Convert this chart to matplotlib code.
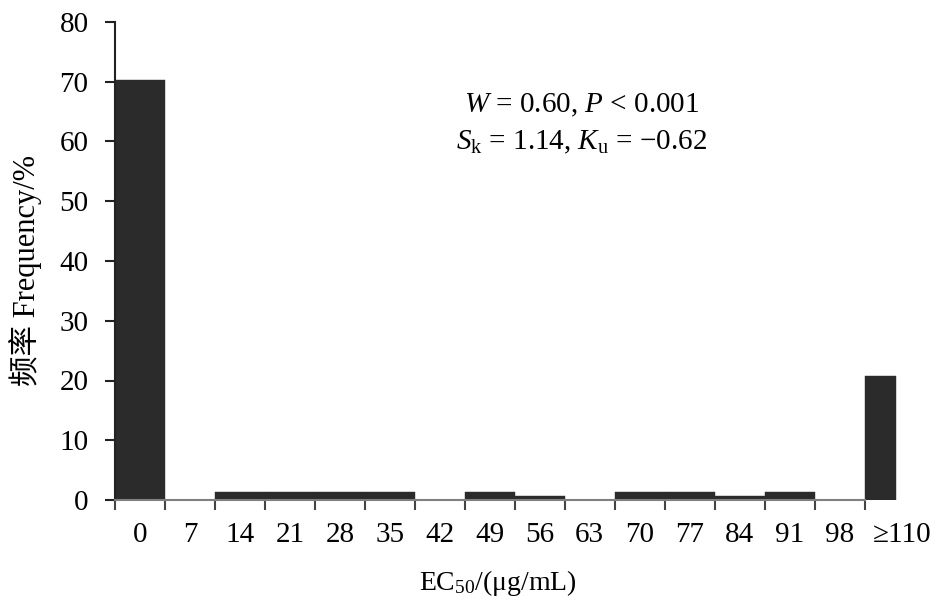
import matplotlib
matplotlib.use("Agg")
import matplotlib.pyplot as plt
import numpy as np

categories = ["0", "7", "14", "21", "28", "35", "42", "49", "56", "63",
              "70", "77", "84", "91", "98", "≥110"]
frequency = [70.3, 0, 1.4, 1.4, 1.4, 1.4, 0, 1.4, 0.7, 0,
             1.4, 1.4, 0.7, 1.4, 0, 20.8]

SERIF = ["Liberation Serif", "DejaVu Sans", "Noto Sans CJK SC"]
plt.rcParams["font.family"] = SERIF
plt.rcParams["mathtext.fontset"] = "custom"
plt.rcParams["mathtext.rm"] = "Liberation Serif"
plt.rcParams["mathtext.it"] = "Liberation Serif:italic"

BAR = "#2b2b2b"
EDGE = "#808080"
W, H = 945, 607

fig = plt.figure(figsize=(W / 100, H / 100), dpi=100)
ax = fig.add_axes([115 / W, 1 - 500 / H, (902 - 115) / W, (500 - 22) / H])

x = np.arange(len(categories), dtype=float)
widths = [1.0] * (len(categories) - 1) + [0.62]
ax.bar(x, frequency, width=widths, align="edge", color=BAR,
       edgecolor=BAR, linewidth=0.3, zorder=2)

ax.set_xlim(0, 15.62)
ax.set_ylim(0, 80)
for s in ("top", "right"):
    ax.spines[s].set_visible(False)
ax.spines["left"].set_color("#222222")
ax.spines["left"].set_linewidth(1.5)
ax.spines["bottom"].set_color(EDGE)
ax.spines["bottom"].set_linewidth(1.5)
ax.spines["bottom"].set_bounds(0, 15)

ax.set_yticks(np.arange(0, 81, 10))
ax.tick_params(axis="y", direction="out", length=7, width=1.5,
               color="#222222", labelsize=21, pad=12)

ax.set_xticks(np.arange(0, 16))
ax.set_xticklabels([])
ax.tick_params(axis="x", which="major", direction="out", length=7,
               width=1.5, color="#444444")
label_pos = [i + 0.5 for i in range(15)] + [15.75]
ax.set_xticks(label_pos, minor=True)
ax.set_xticklabels(categories, minor=True)
ax.tick_params(axis="x", which="minor", length=0, labelsize=21, pad=16)

ax.set_xlabel("EC$_{50}$/(μg/mL)", fontsize=20)
ax.xaxis.set_label_coords(0.487, -0.142)
ax.set_ylabel("频率 Frequency/%", fontsize=22, va="center")
ax.yaxis.set_label_coords(-0.114, 0.481)

ax.text(0.593, 0.826, "$W$ = 0.60, $P$ < 0.001", transform=ax.transAxes,
        ha="center", va="center", fontsize=21)
ax.text(0.593, 0.749, "$S_{\\mathrm{k}}$ = 1.14, $K_{\\mathrm{u}}$ = \u22120.62",
        transform=ax.transAxes, ha="center", va="center", fontsize=21)

fig.savefig("out.png", dpi=100, facecolor="white")
